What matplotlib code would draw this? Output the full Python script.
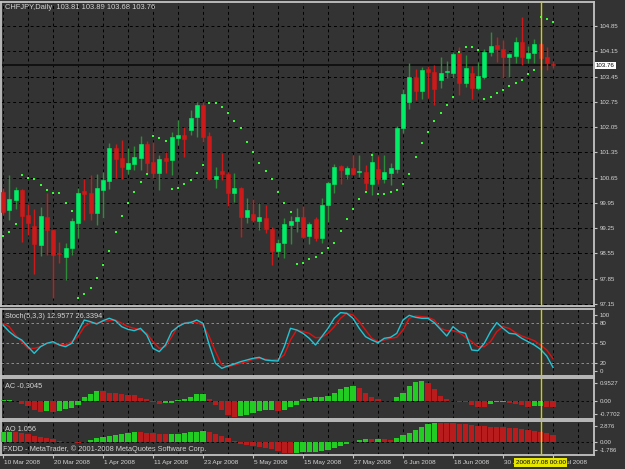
import matplotlib
matplotlib.use('Agg')
import matplotlib.pyplot as plt
import matplotlib.transforms as mtrans
import numpy as np

W, H = 625, 469
BG = '#333333'
FG = '#d4d4d4'
BORDER = '#c4c4c4'
GREEN_BODY = '#00ee66'
GREEN_WICK = '#2e8b3a'
RED = '#cc1a1a'
HIST_GREEN = '#22cc22'
HIST_RED = '#b81c1c'
SAR_COLOR = '#33ff33'
YELLOW = '#d0d000'
FONT = 'Liberation Sans'

# ---------------- data ----------------
opens = [100.25, 99.75, 100.03, 100.31, 99.61, 99.31, 98.78, 99.56, 99.20, 98.55,
         98.45, 98.70, 99.39, 100.28, 100.22, 99.67, 100.31, 100.56, 101.47, 101.19,
         100.89, 101.03, 101.19, 101.58, 101.08, 100.78, 101.19, 101.14, 101.75, 101.83,
         101.97, 102.33, 102.66, 101.80, 100.61, 100.83, 100.75, 100.22, 100.36, 99.56,
         99.64, 99.45, 99.53, 99.23, 98.62, 98.84, 99.34, 99.45, 99.56, 99.03,
         99.50, 98.98, 99.89, 100.47, 100.97, 100.75, 100.92, 100.81, 100.81, 100.47,
         100.89, 100.61, 100.78, 100.89, 102.02, 102.74, 103.44, 103.05, 103.66, 103.58,
         103.35, 103.57, 103.55, 104.10, 103.27, 103.55, 103.13, 103.44, 104.13, 104.32,
         104.21, 103.99, 104.02, 104.41, 103.96, 104.10, 104.35, 103.99, 103.81]
highs = [100.36, 100.72, 100.39, 100.33, 99.92, 99.78, 99.84, 100.22, 99.23, 98.87,
         98.84, 99.53, 100.36, 100.61, 100.72, 100.75, 100.81, 101.61, 101.58, 101.69,
         101.47, 101.53, 101.80, 101.66, 101.64, 101.28, 101.36, 101.91, 102.25, 102.05,
         102.52, 102.74, 102.74, 101.91, 100.94, 101.33, 100.81, 100.78, 100.39, 100.08,
         100.06, 99.95, 99.89, 99.28, 98.95, 99.53, 99.59, 99.81, 99.86, 99.42,
         99.56, 100.08, 100.56, 101.03, 101.00, 100.97, 101.28, 101.28, 101.00, 101.33,
         101.25, 101.28, 101.06, 102.08, 103.10, 103.83, 103.66, 103.71, 103.74, 103.77,
         103.99, 103.88, 104.13, 104.27, 104.05, 103.74, 103.85, 104.21, 104.68, 104.55,
         104.46, 104.10, 104.55, 105.10, 104.30, 104.49, 104.38, 104.27, 103.89]
lows = [99.61, 99.48, 99.78, 98.87, 99.06, 97.99, 98.48, 98.51, 97.32, 98.28,
        97.81, 98.51, 98.98, 99.48, 99.48, 99.34, 99.53, 100.33, 100.64, 100.61,
        100.75, 100.86, 100.86, 100.78, 100.64, 100.31, 100.78, 100.72, 101.55, 101.22,
        101.83, 101.78, 101.64, 100.58, 100.36, 100.58, 99.86, 99.97, 99.00, 99.39,
        99.42, 99.20, 99.12, 98.23, 98.45, 98.42, 98.81, 99.14, 98.98, 98.81,
        98.89, 98.84, 99.42, 100.22, 100.47, 100.61, 100.72, 100.67, 100.31, 100.17,
        100.47, 100.50, 100.45, 100.78, 101.89, 102.55, 102.80, 102.83, 102.86, 102.66,
        103.13, 103.41, 103.41, 102.94, 103.16, 102.83, 103.08, 103.38, 104.02, 103.85,
        103.41, 103.44, 103.83, 103.77, 103.83, 103.83, 103.66, 103.63, 103.68]
closes = [99.70, 100.06, 100.31, 99.59, 99.39, 98.81, 99.59, 99.20, 98.51, 98.53,
          98.70, 99.45, 100.22, 100.20, 99.67, 100.36, 100.58, 101.47, 101.17, 100.94,
          101.06, 101.22, 101.58, 101.06, 100.78, 101.17, 101.11, 101.78, 101.83, 101.72,
          102.30, 102.66, 101.78, 100.61, 100.69, 100.75, 100.22, 100.36, 99.56, 99.75,
          99.48, 99.56, 99.23, 98.62, 98.84, 99.37, 99.45, 99.56, 99.00, 99.37,
          98.98, 99.89, 100.50, 100.94, 100.86, 100.92, 100.75, 100.83, 100.50, 101.08,
          100.61, 100.81, 100.92, 102.02, 102.97, 103.44, 103.05, 103.63, 103.58, 103.10,
          103.55, 103.58, 104.07, 103.27, 103.69, 103.13, 103.47, 104.13, 104.30, 104.21,
          103.99, 104.07, 104.41, 103.99, 104.10, 104.35, 103.96, 103.83, 103.76]
sar = [99.03, 99.14, 99.37, 100.72, 100.64, 100.61, 100.45, 100.31, 100.22, 100.22,
       99.95, 99.73, 97.32, 97.43, 97.59, 97.87, 98.23, 98.62, 99.14, 99.59,
       99.95, 100.25, 100.53, 100.75, 101.80, 101.75, 101.66, 100.34, 100.36, 100.47,
       100.58, 100.78, 101.00, 102.72, 102.72, 102.61, 102.44, 102.22, 102.02, 101.64,
       101.36, 101.06, 100.83, 100.61, 100.25, 99.95, 99.70, 98.26, 98.29, 98.40,
       98.45, 98.56, 98.70, 98.84, 99.17, 99.50, 99.78, 100.06, 100.25, 101.28,
       100.20, 100.20, 100.25, 100.31, 100.47, 100.75, 101.22, 101.61, 101.91, 102.22,
       102.44, 102.66, 102.88, 104.13, 104.27, 104.27, 104.19, 102.83, 102.88, 102.99,
       103.08, 103.19, 103.27, 103.35, 103.52, 103.63, 105.10, 105.04, 104.96]
stoch_main = [77.3, 67.2, 59.6, 54.5, 44.4, 34.3, 44.4, 49.5, 52.0, 47.0,
              44.4, 49.5, 67.2, 84.8, 82.3, 78.8, 83.8, 87.4, 83.8, 74.7,
              70.7, 68.7, 72.2, 62.1, 41.9, 36.9, 47.0, 67.2, 74.7, 79.8,
              80.8, 84.8, 79.8, 47.0, 19.2, 11.6, 15.2, 18.2, 21.7, 24.2,
              26.8, 28.3, 24.2, 23.2, 22.7, 44.4, 72.2, 69.7, 64.6, 57.1,
              47.0, 59.6, 72.2, 87.4, 96.0, 95.0, 87.4, 72.2, 59.6, 54.5,
              50.5, 57.1, 58.6, 64.6, 84.8, 91.9, 88.9, 87.4, 87.4, 80.8,
              70.7, 60.6, 74.7, 67.2, 64.6, 39.4, 38.4, 49.5, 67.2, 80.8,
              72.2, 64.6, 63.6, 57.1, 52.0, 47.0, 40.4, 30.3, 12.96]
stoch_signal = [79.8, 74.7, 62.1, 52.0, 41.9, 41.9, 44.4, 49.5, 49.5, 48.0,
                47.0, 52.0, 59.6, 74.7, 80.8, 79.8, 82.3, 83.8, 84.8, 79.8,
                74.7, 72.2, 69.7, 64.6, 52.0, 41.9, 44.4, 59.6, 75.8, 79.8,
                82.3, 80.8, 77.3, 59.6, 36.9, 16.7, 14.1, 16.7, 19.2, 21.7,
                25.3, 26.8, 25.3, 24.2, 25.3, 31.8, 54.5, 69.7, 67.2, 64.6,
                58.0, 58.6, 64.6, 74.7, 87.4, 95.0, 92.4, 82.3, 69.7, 57.1,
                52.0, 54.5, 57.1, 58.6, 69.7, 87.4, 90.9, 89.9, 88.9, 84.8,
                72.2, 68.7, 68.7, 65.7, 58.6, 52.0, 44.4, 44.4, 52.0, 67.2,
                74.7, 72.2, 65.7, 60.6, 57.1, 53.5, 47.0, 39.4, 26.34]
ac = [0.02, 0.04, -0.02, -0.16, -0.26, -0.45, -0.53, -0.48, -0.53, -0.48,
      -0.42, -0.37, -0.21, 0.19, 0.32, 0.48, 0.47, 0.39, 0.35, 0.31,
      0.27, 0.26, 0.11, 0.06, -0.05, -0.16, -0.13, -0.10, 0.03, 0.06,
      0.19, 0.31, 0.32, 0.06, -0.21, -0.45, -0.69, -0.7702, -0.74, -0.69,
      -0.61, -0.48, -0.45, -0.44, -0.48, -0.45, -0.32, -0.21, 0.06, 0.11,
      0.19, 0.20, 0.24, 0.35, 0.55, 0.64, 0.71, 0.63, 0.35, 0.16,
      0.06, -0.01, -0.02, 0.16, 0.39, 0.71, 0.90, 0.9527, 0.87, 0.55,
      0.24, 0.08, -0.01, -0.05, -0.06, -0.21, -0.29, -0.32, -0.16, -0.08,
      -0.05, -0.10, -0.16, -0.21, -0.29, -0.26, -0.25, -0.29, -0.3045]
ao = [1.52, 1.53, 1.41, 1.36, 1.16, 0.86, 0.71, 0.61, 0.35, 0.15,
      -0.02, -0.10, -0.15, 0.01, 0.25, 0.56, 0.76, 0.91, 1.01, 1.16,
      1.26, 1.41, 1.40, 1.36, 1.26, 1.16, 1.11, 1.12, 1.16, 1.26,
      1.41, 1.52, 1.67, 1.52, 1.21, 0.86, 0.56, 0.15, -0.30, -0.45,
      -0.70, -0.85, -1.01, -1.16, -1.41, -1.70, -1.786, -1.67, -1.60, -1.56,
      -1.52, -1.41, -1.26, -1.01, -0.66, -0.35, 0.02, 0.30, 0.36, 0.34,
      0.37, 0.35, 0.32, 0.61, 0.96, 1.36, 1.77, 2.27, 2.68, 2.876,
      2.85, 2.83, 2.78, 2.73, 2.63, 2.53, 2.42, 2.32, 2.27, 2.22,
      2.20, 2.12, 2.07, 1.97, 1.82, 1.67, 1.46, 1.31, 1.056]

date_labels = ['10 Mar 2008', '20 Mar 2008', '1 Apr 2008', '11 Apr 2008', '23 Apr 2008',
               '5 May 2008', '15 May 2008', '27 May 2008', '6 Jun 2008', '18 Jun 2008',
               '30 Jun 2008', '10 Jul 2008']
date_label_bars = [0, 8, 16, 24, 32, 40, 48, 56, 64, 72, 80, 88]
price_ticks = [97.15, 97.85, 98.55, 99.25, 99.95, 100.65, 101.35, 102.05, 102.75, 103.45, 104.15, 104.85]
last_price = 103.76
cursor_bar = 86
cursor_label = '2008.07.08 00:00'
title_main = 'CHFJPY,Daily  103.81 103.89 103.68 103.76'
title_stoch = 'Stoch(5,3,3) 12.9577 26.3394'
title_ac = 'AC -0.3045'
title_ao = 'AO 1.056'
copyright_text = 'FXDD - MetaTrader, \u00a9 2001-2008 MetaQuotes Software Corp.'
stoch_levels = [20, 50, 80]

# ---------------- layout ----------------
plt.rcParams['font.family'] = [FONT, 'DejaVu Sans']
fig = plt.figure(figsize=(W / 100, H / 100), dpi=100, facecolor=BG)


def rect(x0, y0, x1, y1):
    return [x0 / W, 1 - y1 / H, (x1 - x0) / W, (y1 - y0) / H]


ax_main = fig.add_axes(rect(1, 2, 594, 306))
ax_st = fig.add_axes(rect(1, 309, 594, 376), sharex=ax_main)
ax_ac = fig.add_axes(rect(1, 378, 594, 419), sharex=ax_main)
ax_ao = fig.add_axes(rect(1, 421, 594, 455), sharex=ax_main)

n = len(closes)
idx = np.arange(n)
grid_bars = np.arange(0, 95, 4)
DASH = (0, (3, 3))

for ax in (ax_main, ax_st, ax_ac, ax_ao):
    ax.set_facecolor(BG)
    for s in ax.spines.values():
        s.set_color(BORDER)
        s.set_linewidth(1.3)
    ax.vlines(grid_bars, 0, 1, transform=ax.get_xaxis_transform(), colors='black',
              linestyles=DASH, linewidth=0.7, zorder=1)
    ax.axvline(cursor_bar, color=YELLOW, linewidth=1.0, zorder=6)
    ax.yaxis.tick_right()
    ax.tick_params(axis='y', colors=BORDER, labelcolor=FG, labelsize=4.4, length=2.5,
                   width=0.8, pad=1.5, direction='out')
    ax.tick_params(axis='x', length=0, labelbottom=False)

ax_main.set_xlim(-0.32, 94.56)

# ---- main candles ----
o = np.array(opens); c = np.array(closes); hi = np.array(highs); lo = np.array(lows)
bull = c >= o
ax_main.vlines(idx[bull], lo[bull], hi[bull], color=GREEN_WICK, linewidth=1.0, zorder=3)
ax_main.vlines(idx[~bull], lo[~bull], hi[~bull], color=RED, linewidth=1.0, zorder=3)
body_lo = np.minimum(o, c)
body_h = np.maximum(np.abs(c - o), 0.02)
ax_main.bar(idx[bull], body_h[bull], bottom=body_lo[bull], width=0.64, color=GREEN_BODY,
            edgecolor=GREEN_BODY, linewidth=0.4, zorder=4)
ax_main.bar(idx[~bull], body_h[~bull], bottom=body_lo[~bull], width=0.64, color=RED,
            edgecolor=RED, linewidth=0.4, zorder=4)
ax_main.scatter(idx, sar, s=3.2, marker='s', color=SAR_COLOR, linewidths=0, zorder=5)

ax_main.set_ylim(97.094, 105.515)
ax_main.set_yticks(price_ticks)
ax_main.set_yticklabels(['%.2f' % p for p in price_ticks])
ax_main.grid(axis='y', color='black', linestyle=DASH, linewidth=0.7)
ax_main.set_axisbelow(True)
ax_main.axhline(last_price, color='#111111', linewidth=1.4, zorder=2)
ax_main.text(1.003, last_price, '%.2f' % last_price,
             transform=mtrans.blended_transform_factory(ax_main.transAxes, ax_main.transData),
             ha='left', va='center', fontsize=4.4, color='black', zorder=10, clip_on=False,
             bbox=dict(boxstyle='square,pad=0.18', fc='white', ec='none'))

# ---- stochastic ----
for lv in stoch_levels:
    ax_st.axhline(lv, color='#9a9a9a', linestyle=DASH, linewidth=0.6, zorder=1)
ax_st.plot(idx, stoch_main, color='#22c4d4', linewidth=1.0, zorder=4)
ax_st.plot(idx, stoch_signal, color='#dd1111', linewidth=1.0, zorder=3)
ax_st.set_ylim(0, 101.5)
ax_st.set_yticks([92.9, 80, 50, 20, 8.0])
ax_st.set_yticklabels(['100', '80', '50', '20', '0'])

# ---- AC ----
ac_arr = np.array(ac)
ac_up = np.concatenate([[True], ac_arr[1:] >= ac_arr[:-1]])
ax_ac.bar(idx, ac_arr, width=0.85, color=np.where(ac_up, HIST_GREEN, HIST_RED), zorder=3)
ax_ac.axhline(0, color='black', linestyle=DASH, linewidth=0.6, zorder=1)
ax_ac.set_ylim(-0.884, 1.097)
ax_ac.set_yticks([0.84, 0.0, -0.643])
ax_ac.set_yticklabels(['0.9527', '0.00', '-0.7702'])

# ---- AO ----
ao_arr = np.array(ao)
ao_up = np.concatenate([[True], ao_arr[1:] >= ao_arr[:-1]])
ax_ao.bar(idx, ao_arr, width=0.85, color=np.where(ao_up, HIST_GREEN, HIST_RED), zorder=3)
ax_ao.axhline(0, color='black', linestyle=DASH, linewidth=0.6, zorder=1)
ax_ao.set_ylim(-2.015, 3.136)
ax_ao.set_yticks([2.38, 0.0, -1.26])
ax_ao.set_yticklabels(['2.876', '0.00', '-1.786'])

# date axis
ax_ao.set_xticks(date_label_bars)
ax_ao.set_xticklabels(date_labels, ha='left')
ax_ao.tick_params(axis='x', length=2.5, width=0.8, colors=BORDER, labelcolor=FG,
                  labelsize=4.6, pad=1.2, labelbottom=True, direction='out')
offset = mtrans.ScaledTranslation(1.5 / 100, 0, fig.dpi_scale_trans)
for lab in ax_ao.get_xticklabels():
    lab.set_transform(lab.get_transform() + offset)

# cursor date label (covers the labels beneath it, as in the terminal)
ax_ao.text(cursor_bar, -0.22, cursor_label,
           transform=mtrans.blended_transform_factory(ax_ao.transData, ax_ao.transAxes),
           ha='center', va='center', fontsize=4.6, color='black', zorder=20, clip_on=False,
           bbox=dict(boxstyle='square,pad=0.25', fc='#e6e600', ec='none'))

# ---- titles ----
def ftext(x, y, s, **kw):
    fig.text(x / W, 1 - y / H, s, ha='left', va='center', color=FG, **kw)

ftext(5, 7.5, title_main, fontsize=5.4)
ftext(5, 316, title_stoch, fontsize=5.3)
ftext(5, 386, title_ac, fontsize=5.3)
ftext(5, 429, title_ao, fontsize=5.3)
ftext(3, 449.5, copyright_text, fontsize=5.3)

fig.savefig('out.png', dpi=100, facecolor=BG)
